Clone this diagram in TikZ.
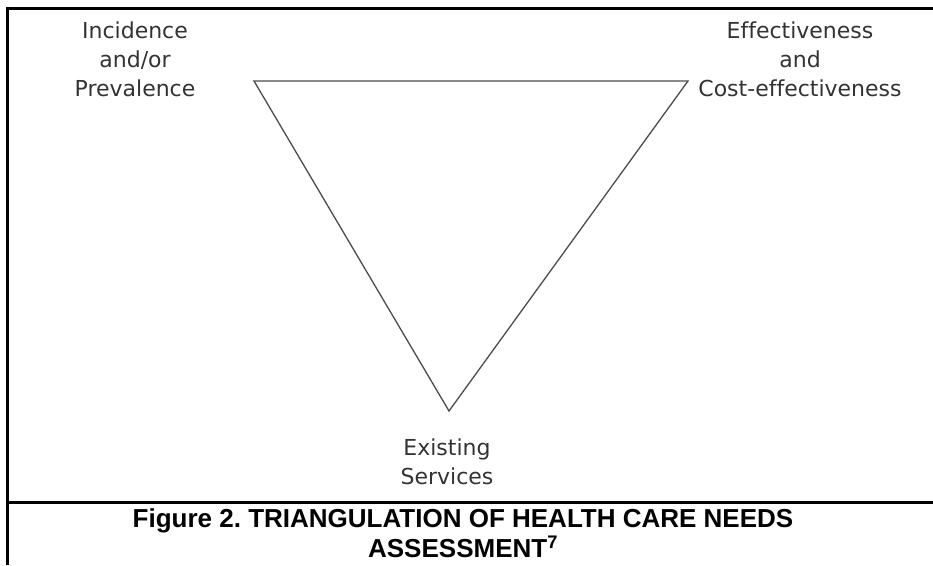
\documentclass[tikz,border=0pt]{standalone}
\usepackage{fontspec}
\setmainfont{Liberation Sans}
\newfontfamily\labelfont[Ligatures=NoCommon]{DejaVu Sans}
\frenchspacing
\begin{document}
\begin{tikzpicture}[x=1pt,y=-1pt,
  frameline/.style={line width=3pt,black},
  triline/.style={line width=1.3pt,black!70,line join=miter},
  vlabel/.style={font=\labelfont\fontsize{22}{29}\selectfont,text=black!80,align=center,inner sep=0pt},
  captext/.style={font=\bfseries\fontsize{26}{30}\selectfont,align=center,inner sep=0pt}]
\useasboundingbox (0,0) rectangle (933,565);
% frame
\coordinate (fTL) at (7,8);
\coordinate (fTR) at (933,8);
\coordinate (fBL) at (7,565);
\coordinate (sL) at (7,502);
\coordinate (sR) at (933,502);
\draw[frameline] (fTR) -- (fTL) -- (fBL);
\draw[frameline] (sL) -- (sR);
% triangle
\coordinate (A) at (254,81);
\coordinate (B) at (688,81);
\coordinate (C) at (449,411);
\draw[triline] (A) -- (B) -- (C) -- cycle;
% labels
\node[vlabel] (inc) at (135,59) {Incidence\\and/or\\Prevalence};
\node[vlabel] (eff) at (800,59) {Effectiveness\\and\\Cost-effectiveness};
\node[vlabel] (exi) at (447,462) {Existing\\Services};
% caption
\node[captext] (cap) at (463,533) {Figure 2. TRIANGULATION OF HEALTH CARE NEEDS\\ASSESSMENT\textsuperscript{7}};
\end{tikzpicture}
\end{document}
